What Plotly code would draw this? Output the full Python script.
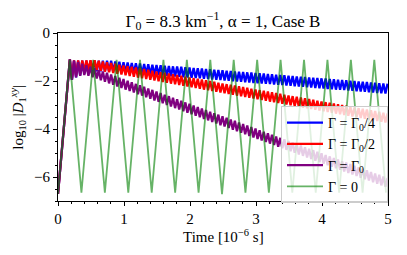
import numpy as np
import plotly.graph_objects as go

# ---------------- data ----------------
t_start = 0.0
start_val = -6.7
peak_t0 = 0.18          # first common maximum
wiggle_period = 0.0625  # fast oscillation period [1e-6 s]

blue_peaks = [-1.10, -1.15, -1.15, -1.15, -1.15, -1.15, -1.15, -1.15, -1.15, -1.15,
              -1.15, -1.19, -1.20, -1.22, -1.23, -1.25, -1.26, -1.27, -1.29, -1.30,
              -1.32, -1.33, -1.34, -1.36, -1.37, -1.39, -1.40, -1.41, -1.43, -1.44,
              -1.46, -1.47, -1.48, -1.50, -1.51, -1.53, -1.54, -1.55, -1.57, -1.58,
              -1.60, -1.61, -1.62, -1.64, -1.65, -1.67, -1.68, -1.69, -1.71, -1.72,
              -1.74, -1.75, -1.76, -1.78, -1.79, -1.81, -1.82, -1.83, -1.85, -1.86,
              -1.87, -1.89, -1.90, -1.92, -1.93, -1.95, -1.96, -1.97, -1.99, -2.00,
              -2.02, -2.03, -2.04, -2.06, -2.07, -2.09, -2.10, -2.11]
blue_troughs = [-1.95, -1.85, -1.76, -1.69, -1.64, -1.61, -1.59, -1.59, -1.59, -1.60,
                -1.60, -1.61, -1.63, -1.64, -1.66, -1.67, -1.68, -1.70, -1.71, -1.73,
                -1.74, -1.75, -1.77, -1.78, -1.80, -1.81, -1.82, -1.84, -1.85, -1.87,
                -1.88, -1.89, -1.91, -1.92, -1.94, -1.95, -1.96, -1.98, -1.99, -2.01,
                -2.02, -2.03, -2.05, -2.06, -2.08, -2.09, -2.10, -2.12, -2.13, -2.15,
                -2.16, -2.17, -2.19, -2.20, -2.22, -2.23, -2.24, -2.26, -2.27, -2.29,
                -2.30, -2.31, -2.33, -2.34, -2.36, -2.37, -2.38, -2.40, -2.41, -2.43,
                -2.44, -2.45, -2.47, -2.48, -2.50, -2.51, -2.52]

red_peaks = [-1.10, -1.14, -1.14, -1.14, -1.14, -1.14, -1.14, -1.16, -1.19, -1.22,
             -1.25, -1.28, -1.32, -1.35, -1.38, -1.41, -1.44, -1.47, -1.50, -1.53,
             -1.57, -1.60, -1.63, -1.66, -1.69, -1.72, -1.75, -1.78, -1.82, -1.85,
             -1.88, -1.91, -1.94, -1.97, -2.00, -2.03, -2.07, -2.10, -2.13, -2.16,
             -2.19, -2.22, -2.25, -2.28, -2.32, -2.35, -2.38, -2.41, -2.44, -2.47,
             -2.50, -2.53, -2.57, -2.60, -2.63, -2.66, -2.69, -2.72, -2.75, -2.78,
             -2.82, -2.85, -2.88, -2.91, -2.94, -2.97, -3.00, -3.03, -3.07, -3.10,
             -3.13, -3.16, -3.19, -3.22, -3.25, -3.28, -3.32, -3.35]
red_troughs = [-1.90, -1.78, -1.68, -1.60, -1.55, -1.53, -1.54, -1.57, -1.61, -1.64,
               -1.67, -1.70, -1.73, -1.76, -1.79, -1.82, -1.86, -1.89, -1.92, -1.95,
               -1.98, -2.01, -2.04, -2.07, -2.11, -2.14, -2.17, -2.20, -2.23, -2.26,
               -2.29, -2.32, -2.36, -2.39, -2.42, -2.45, -2.48, -2.51, -2.54, -2.57,
               -2.61, -2.64, -2.67, -2.70, -2.73, -2.76, -2.79, -2.82, -2.86, -2.89,
               -2.92, -2.95, -2.98, -3.01, -3.04, -3.07, -3.11, -3.14, -3.17, -3.20,
               -3.23, -3.26, -3.29, -3.32, -3.36, -3.39, -3.42, -3.45, -3.48, -3.51,
               -3.54, -3.57, -3.61, -3.64, -3.67, -3.70, -3.73]

purple_peaks = [-1.10, -1.15, -1.21, -1.28, -1.34, -1.41, -1.47, -1.54, -1.60, -1.66,
                -1.73, -1.79, -1.86, -1.92, -1.99, -2.05, -2.12, -2.18, -2.24, -2.31,
                -2.37, -2.44, -2.50, -2.57, -2.63, -2.70, -2.76, -2.82, -2.89, -2.95,
                -3.02, -3.08, -3.15, -3.21, -3.28, -3.34, -3.40, -3.47, -3.53, -3.60,
                -3.66, -3.73, -3.79, -3.85, -3.92, -3.98, -4.05, -4.11, -4.18, -4.24,
                -4.31, -4.37, -4.43, -4.50, -4.56, -4.63, -4.69, -4.76, -4.82, -4.88,
                -4.95, -5.01, -5.08, -5.14, -5.21, -5.27, -5.34, -5.40, -5.46, -5.53,
                -5.59, -5.66, -5.72, -5.79, -5.85, -5.91, -5.98, -6.04]
purple_troughs = [-1.95, -1.85, -1.78, -1.75, -1.78, -1.84, -1.90, -1.97, -2.03, -2.10,
                  -2.16, -2.23, -2.29, -2.36, -2.42, -2.48, -2.55, -2.61, -2.68, -2.74,
                  -2.81, -2.87, -2.93, -3.00, -3.06, -3.13, -3.19, -3.26, -3.32, -3.39,
                  -3.45, -3.51, -3.58, -3.64, -3.71, -3.77, -3.84, -3.90, -3.96, -4.03,
                  -4.09, -4.16, -4.22, -4.29, -4.35, -4.42, -4.48, -4.54, -4.61, -4.67,
                  -4.74, -4.80, -4.87, -4.93, -4.99, -5.06, -5.12, -5.19, -5.25, -5.32,
                  -5.38, -5.45, -5.51, -5.57, -5.64, -5.70, -5.77, -5.83, -5.90, -5.96,
                  -6.03, -6.09, -6.15, -6.22, -6.28, -6.35, -6.41]

green_period = 0.355
green_peaks = [-1.12] * 14
green_troughs = [-6.70, -6.65, -6.65, -6.65, -6.65, -6.65, -6.65, -6.72,
                 -6.65, -6.65, -6.65, -6.65, -6.65, -6.65, -6.65]

labels = ["Γ = Γ<sub>0</sub>/4\u00a0\u00a0", "Γ = Γ<sub>0</sub>/2", "Γ = Γ<sub>0</sub>", "Γ = 0"]
colors = ["#0000ff", "#ff0000", "#800080", "rgba(0,128,0,0.6)"]

x_ticks = [0, 1, 2, 3, 4, 5]
y_ticks = [0, -2, -4, -6]

title_text = "Γ<sub>0</sub> = 8.3 km<sup>−1</sup>, α = 1, Case B"
x_title = "Time [10<sup>−6</sup> s]"
y_title = "log<sub>10</sub> |<i>D</i><sub>1</sub><sup><i>xy</i></sup>|"


def damped(peaks, troughs):
    xs = [t_start]
    ys = [start_val]
    for k, p in enumerate(peaks):
        xs.append(peak_t0 + k * wiggle_period)
        ys.append(p)
        if k < len(troughs):
            xs.append(peak_t0 + (k + 0.5) * wiggle_period)
            ys.append(troughs[k])
    return xs, ys


def undamped(peaks, troughs):
    xs, ys = [], []
    for k, tr in enumerate(troughs):
        xs.append(k * green_period)
        ys.append(tr)
        if k < len(peaks):
            xs.append((k + 0.5) * green_period)
            ys.append(peaks[k])
    return xs, ys


series = [damped(blue_peaks, blue_troughs),
          damped(red_peaks, red_troughs),
          damped(purple_peaks, purple_troughs),
          undamped(green_peaks, green_troughs)]
widths = [2.3, 2.3, 2.3, 1.8]

FONT = "Liberation Serif"
fig = go.Figure()
for i, ((xs, ys), lab, col, w) in enumerate(zip(series, labels, colors, widths)):
    fig.add_trace(go.Scatter(x=xs, y=ys, mode="lines", name=lab, legendgroup=f"g{i}",
                             line=dict(color=col, width=w)))

axis_common = dict(showline=True, linecolor="black", linewidth=1, mirror=True,
                   ticks="outside", ticklen=4, tickwidth=1, tickcolor="black",
                   showgrid=False, zeroline=False, automargin=False,
                   tickfont=dict(family=FONT, size=15, color="black"))
fig.update_xaxes(range=[0, 5], tickvals=x_ticks,
                 minor=dict(dtick=0.2, ticks="outside", ticklen=2, tickcolor="black"),
                 **axis_common)
fig.update_yaxes(range=[-7, 0], tickvals=y_ticks,
                 minor=dict(dtick=0.5, ticks="outside", ticklen=2, tickcolor="black"),
                 **axis_common)

fig.add_annotation(text=x_title, xref="paper", yref="paper", x=0.5, y=-0.21,
                   xanchor="center", yanchor="middle", showarrow=False,
                   font=dict(family=FONT, size=15, color="black"))
fig.add_annotation(text=y_title, xref="paper", yref="paper", x=-0.122, y=0.5,
                   xanchor="center", yanchor="middle", showarrow=False, textangle=-90,
                   font=dict(family=FONT, size=15, color="black"))

fig.update_layout(
    width=407, height=255,
    margin=dict(l=58, r=19, t=33, b=54),
    paper_bgcolor="white", plot_bgcolor="white",
    title=dict(text=title_text,
               x=0.548, xanchor="center", y=0.918, yref="container", yanchor="middle",
               font=dict(family=FONT, size=17, color="black")),
    legend=dict(x=1.0, xanchor="right", y=0.565, yanchor="top",
                bgcolor="rgba(255,255,255,0.8)", bordercolor="#cccccc", borderwidth=1,
                itemwidth=36, font=dict(family=FONT, size=14, color="black"),
                tracegroupgap=0),
    showlegend=True,
)

fig.write_html("out.html", config={"displayModeBar": False},
               post_script="document.body.style.margin='0';document.body.style.padding='0';")
